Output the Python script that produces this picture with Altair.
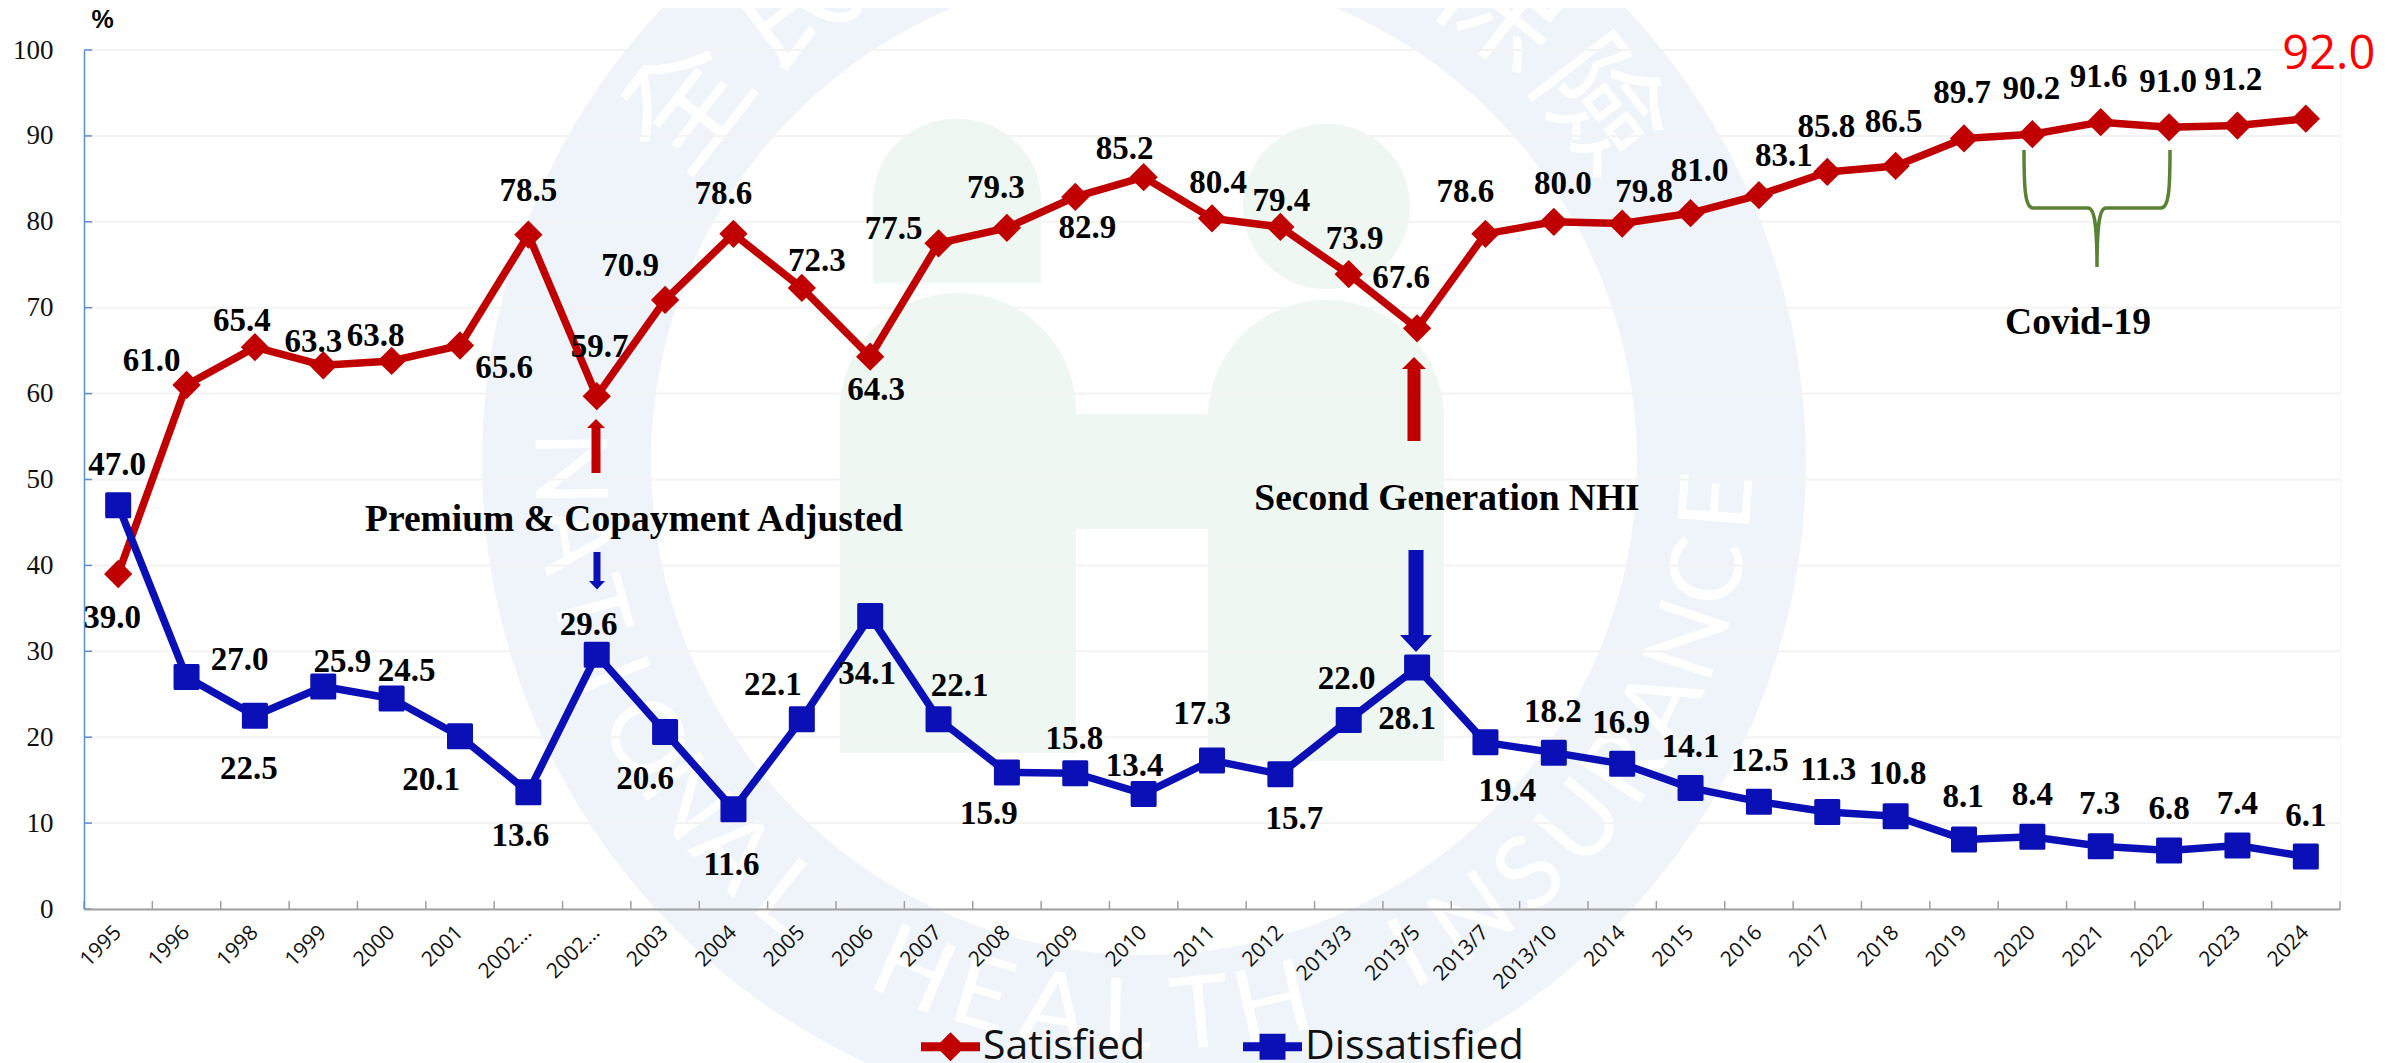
import math
import altair as alt
import pandas as pd

categories = ["1995", "1996", "1998", "1999", "2000", "2001", "2002-a", "2002-b", "2003", "2004", "2005",
              "2006", "2007", "2008", "2009", "2010", "2011", "2012", "2013/3", "2013/5", "2013/7", "2013/10",
              "2014", "2015", "2016", "2017", "2018", "2019", "2020", "2021", "2022", "2023", "2024"]
satisfied = [39.0, 61.0, 65.4, 63.3, 63.8, 65.6, 78.5, 59.7, 70.9, 78.6, 72.3, 64.3, 77.5, 79.3, 82.9, 85.2, 80.4,
             79.4, 73.9, 67.6, 78.6, 80.0, 79.8, 81.0, 83.1, 85.8, 86.5, 89.7, 90.2, 91.6, 91.0, 91.2, 92.0]
dissatisfied = [47.0, 27.0, 22.5, 25.9, 24.5, 20.1, 13.6, 29.6, 20.6, 11.6, 22.1, 34.1, 22.1, 15.9, 15.8, 13.4, 17.3,
                15.7, 22.0, 28.1, 19.4, 18.2, 16.9, 14.1, 12.5, 11.3, 10.8, 8.1, 8.4, 7.3, 6.8, 7.4, 6.1]
y_ticks = [0, 10, 20, 30, 40, 50, 60, 70, 80, 90, 100]

# label nudges, in pixels from each point
sat_dx = [-6, -35, -13, -10, -16, 44, 0, 3, -35, -10, 15, 6, -45, -11, 12, -19, 6, 1, 6, -16, -20, 9, 22, 9, 25, -1, -2, -2, -1, -2, -1, -4, 23]
sat_dy = [44, -24, -26, -23, -25, 23, -44, -49, -34, -40, -27, 33, -14, -40, 31, -28, -35, -26, -35, -50, -42, -38, -32, -42, -39, -45, -44, -45, -45, -45, -45, -46, -64]
dis_dx = [-1, 53, -6, 19, 15, -29, -8, -8, -20, -2, -29, -3, 21, -18, -1, -9, -10, 14, -2, -10, 22, -1, -1, 0, 1, 1, 2, -1, 0, -1, 0, 0, 0]
dis_dy = [-40, -17, 53, -25, -28, 44, 44, -30, 47, 56, -34, 58, -33, 42, -34, -28, -46, 45, -41, 51, 49, -41, -41, -41, -41, -42, -42, -42, -42, -42, -42, -41, -41]

W, H = 2256, 859
LEFT, TOP = 76, 42            # plot origin inside the svg
PX0, PY0 = LEFT + 8, TOP + 8  # plot origin on the page
SERIF = "Liberation Serif"
RED, BLUE = "#C00000", "#0A10B5"
RING, MINT, GREEN = "#EEF4F9", "#EFF7F2", "#5A8234"

sat = pd.DataFrame({"k": categories, "v": satisfied, "dx": sat_dx, "dy": sat_dy, "s": "Satisfied"})
dis = pd.DataFrame({"k": categories, "v": dissatisfied, "dx": dis_dx, "dy": dis_dy, "s": "Dissatisfied"})
allv = pd.concat([sat, dis], ignore_index=True)
one = pd.DataFrame({"a": [0]})
ticks = pd.DataFrame({"t": y_ticks})
cats = pd.DataFrame({"k": categories})

xs = alt.X("k:N", sort=categories, title=None,
           scale=alt.Scale(domain=categories, paddingInner=0, paddingOuter=0),
           axis=alt.Axis(labelExpr="indexof(datum.value,'2002')==0 ? '2002...' : datum.value",
                         labelAngle=-45, labelAlign="right", labelBaseline="middle", labelPadding=20,
                         labelFont="Open Sans", labelFontSize=21, labelColor="#111111", labelOverlap=False,
                         tickSize=0, domainColor="#A0A0A0", domainWidth=2, grid=False, zindex=1))
ys = alt.Y("v:Q", title="%", scale=alt.Scale(domain=[0, 100], nice=False, zero=True),
           axis=alt.Axis(values=y_ticks, grid=False, tickSize=0, labelPadding=31, labelFont=SERIF, labelFontSize=27,
                         labelColor="#111111", domainColor="#5B8FD0", domainWidth=1.5, zindex=1,
                         titleAngle=0, titleX=18, titleY=-31, titleAlign="center", titleBaseline="middle",
                         titleFont="Liberation Sans", titleFontSize=25, titleFontWeight="bold", titleColor="#000000"))


def px(X):
    return X - PX0


def py(Y):
    return Y - PY0


layers = []

# ---- watermark ----
layers.append(alt.Chart(one).mark_arc(radius=662, radius2=493, theta=0, theta2=6.2832, color=RING)
              .encode(x=alt.value(px(1144)), y=alt.value(py(462))))


def green(x0, x1, y0, y1, rt, rb=0):
    return alt.Chart(one).mark_rect(color=MINT, cornerRadiusTopLeft=rt, cornerRadiusTopRight=rt,
                                    cornerRadiusBottomLeft=rb, cornerRadiusBottomRight=rb).encode(
        x=alt.value(px(x0)), x2=alt.value(px(x1)), y=alt.value(py(y0)), y2=alt.value(py(y1)))


layers += [green(873, 1041, 119, 283, 84), green(1243, 1410, 124, 289, 83, 83),
           green(840, 1076, 293, 753, 118), green(1208, 1444, 300, 761, 118), green(1076, 1208, 414, 529, 0)]

ring_text = "NATIONAL HEALTH INSURANCE"
for i, ch in enumerate(ring_text):
    if ch == " ":
        continue
    th = 91.7 + (12 - i) * 7.3
    X = 1144 + 578 * math.cos(math.radians(th))
    Y = 462 + 558 * math.sin(math.radians(th))
    layers.append(alt.Chart(one).mark_text(text=ch, font="Liberation Sans Narrow, Lato", fontSize=100, color="#FFFFFF",
                                           baseline="middle", align="center", angle=(th - 90) % 360)
                  .encode(x=alt.value(px(X)), y=alt.value(py(Y))))

for ch, th in zip("全民健康保險", [-142, -127, -105, -75, -52, -38]):
    X = 1144 + 575 * math.cos(math.radians(th))
    Y = 462 + 575 * math.sin(math.radians(th))
    layers.append(alt.Chart(one).mark_text(text=ch, font="Noto Sans CJK TC", fontSize=125, color="#FFFFFF",
                                           baseline="middle", align="center", angle=(th + 90) % 360)
                  .encode(x=alt.value(px(X)), y=alt.value(py(Y))))

# ---- faint grid and inward ticks ----
layers.append(alt.Chart(ticks).mark_rule(color="#F3F3F3", strokeWidth=2).encode(
    y=alt.Y("t:Q", scale=alt.Scale(domain=[0, 100], nice=False)), x=alt.value(0), x2=alt.value(W)))
layers.append(alt.Chart(ticks).mark_rule(color="#5B8FD0", strokeWidth=1.5).encode(
    y=alt.Y("t:Q", scale=alt.Scale(domain=[0, 100], nice=False)), x=alt.value(0), x2=alt.value(8)))
layers.append(alt.Chart(cats).mark_rule(color="#A0A0A0", strokeWidth=1.5, xOffset=-W / 66).encode(
    x=xs, y=alt.value(H), y2=alt.value(H - 8)))
layers.append(alt.Chart(one).mark_rule(color="#A0A0A0", strokeWidth=1.5).encode(
    x=alt.value(W), y=alt.value(H), y2=alt.value(H - 8)))

# ---- series ----
layers.append(alt.Chart(sat).mark_line(color=RED, strokeWidth=7.5, strokeJoin="round").encode(x=xs, y=ys))
layers.append(alt.Chart(sat).mark_point(color=RED, shape="diamond", size=800, filled=True, opacity=1)
              .encode(x=xs, y=ys))
layers.append(alt.Chart(dis).mark_line(color=BLUE, strokeWidth=7.5, strokeJoin="round").encode(x=xs, y=ys))
layers.append(alt.Chart(dis).mark_point(color=BLUE, shape="square", size=529, filled=True, opacity=1, stroke=BLUE,
                                        strokeWidth=3, strokeJoin="round").encode(x=xs, y=ys))

# ---- value labels ----
for frame in (sat, dis):
    for r in range(len(frame)):
        row = frame.iloc[[r]]
        last_red = frame is sat and r == len(frame) - 1
        style = (dict(font="Open Sans", fontSize=47, color="#FF0000") if last_red
                 else dict(font=SERIF, fontWeight="bold", fontSize=33, color="#000000"))
        layers.append(alt.Chart(row).mark_text(baseline="middle", align="center", dx=int(row.dx.iloc[0]),
                                               dy=int(row.dy.iloc[0]), **style)
                      .encode(x=xs, y=ys, text=alt.Text("v:Q", format=".1f")))


# ---- arrows ----
def arrow(X, tail, base, tip, shaft, head_w, colour):
    r = alt.Chart(one).mark_rule(color=colour, strokeWidth=shaft).encode(
        x=alt.value(px(X)), y=alt.value(py(tail)), y2=alt.value(py(base)))
    k = abs(tip - base) / head_w
    if tip < tail:
        p = f"M0,{-k}L1,{k}L-1,{k}Z"
    else:
        p = f"M0,{k}L1,{-k}L-1,{-k}Z"
    t = alt.Chart(one).mark_point(shape=p, size=head_w ** 2, filled=True, color=colour, opacity=1).encode(
        x=alt.value(px(X)), y=alt.value(py((tip + base) / 2)))
    return [r, t]


layers += arrow(596, 473, 428, 419, 9, 18, RED)
layers += arrow(597, 552, 581, 589.5, 7, 16, BLUE)
layers += arrow(1414, 441, 369, 357, 13, 24, RED)
layers += arrow(1416, 550, 635, 652, 15, 32, BLUE)

# ---- brace ----
brace = "M-73,-58C-73,-20,-72,0,-64,0L-9,0C-2,0,0,20,0,59M73,-58C73,-20,72,0,64,0L9,0C2,0,0,20,0,59"
layers.append(alt.Chart(one).mark_point(shape=brace, size=4, filled=False, stroke=GREEN, strokeWidth=3.5, opacity=1)
              .encode(x=alt.value(px(2097)), y=alt.value(py(208))))

# ---- annotations ----
for txt, X, Y in (("Premium & Copayment Adjusted", 634, 520), ("Second Generation NHI", 1447, 499),
                  ("Covid-19", 2078, 323)):
    layers.append(alt.Chart(one).mark_text(text=txt, font=SERIF, fontWeight="bold", fontSize=37.5, color="#000000",
                                           baseline="middle", align="center")
                  .encode(x=alt.value(px(X)), y=alt.value(py(Y))))

# ---- legend ----
sym_sat = "M-1,-0.15L-0.34,-0.15L0,-0.49L0.34,-0.15L1,-0.15L1,0.15L0.34,0.15L0,0.49L-0.34,0.15L-1,0.15Z"
sym_dis = ("M-1,-0.15L-0.44,-0.15L-0.44,-0.44L0.44,-0.44L0.44,-0.15L1,-0.15L1,0.15L0.44,0.15L0.44,0.44"
           "L-0.44,0.44L-0.44,0.15L-1,0.15Z")
series_names = ["Satisfied", "Dissatisfied"]
leg = alt.Legend(title=None, orient="none", legendX=837, legendY=967, direction="horizontal", columns=2,
                 symbolSize=3481, symbolStrokeWidth=0, symbolOpacity=1, labelFont="Open Sans", labelFontSize=41,
                 labelColor="#111111", labelOffset=3, columnPadding=97, labelLimit=400)
layers.append(alt.Chart(allv).mark_point(size=0, filled=True, opacity=1).encode(
    x=xs, y=ys,
    color=alt.Color("s:N", scale=alt.Scale(domain=series_names, range=[RED, BLUE]), legend=leg),
    shape=alt.Shape("s:N", scale=alt.Scale(domain=series_names, range=[sym_sat, sym_dis]), legend=leg)))

chart = alt.layer(*layers).properties(
    width=W, height=H, autosize=alt.AutoSizeParams(type="none"),
    padding={"left": LEFT, "top": TOP, "right": 51, "bottom": 154},
).configure_view(stroke="#F6F6F6")

chart.save("out.html", embed_options={"renderer": "svg", "actions": False})
